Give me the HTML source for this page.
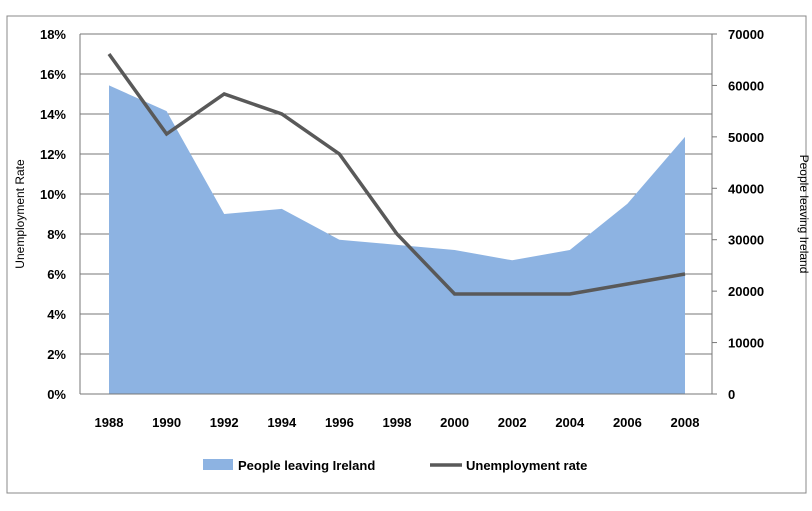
<!DOCTYPE html>
<html><head><meta charset="utf-8"><style>
body{margin:0;background:#fff;font-family:"Liberation Sans",sans-serif}
svg text{font-family:"Liberation Sans",sans-serif;fill:#000}
</style></head><body>
<svg width="812" height="506">
<rect x="7" y="16" width="799" height="477" fill="#fff" stroke="#888"/>
<g id="g"></g>
</svg>
<script>
const years=["1988","1990","1992","1994","1996","1998","2000","2002","2004","2006","2008"];
const leaving=[60000,55000,35000,36000,30000,29000,28000,26000,28000,37000,50000];
const unemp=[17,13,15,14,12,8,5,5,5,5.5,6];
const leftTicks=[0,2,4,6,8,10,12,14,16,18];
const rightTicks=[0,10000,20000,30000,40000,50000,60000,70000];
const L=80,R=712,T=34,B=394;
const x0=109,x1=685;
const xs=i=>x0+(x1-x0)*i/(years.length-1);
const yl=v=>B-(B-T)*v/18;
const yr=v=>B-(B-T)*v/70000;
const g=document.getElementById('g');const NS='http://www.w3.org/2000/svg';
function mk(t,a,txt){const e=document.createElementNS(NS,t);for(const k in a)e.setAttribute(k,a[k]);if(txt!==undefined)e.textContent=txt;g.appendChild(e);return e;}
leftTicks.forEach(v=>{const l=mk('line',{x1:L,x2:R,y1:yl(v),y2:yl(v),stroke:'#777','stroke-width':1});

const t=mk('text',{x:L-14,y:yl(v)+5,'text-anchor':'end','font-size':13,'font-weight':'bold'},v+'%');
});
rightTicks.forEach(v=>{const l=mk('line',{x1:R,x2:R+5,y1:yr(v),y2:yr(v),stroke:'#777'});

const t=mk('text',{x:R+16,y:yr(v)+5,'font-size':13,'font-weight':'bold'},v);
});
let pts=leaving.map((v,i)=>xs(i)+','+yr(v)).join(' ');
const a=mk('polygon',{points:xs(0)+','+B+' '+pts+' '+xs(years.length-1)+','+B,fill:'#8db3e2'});

const ax=mk('line',{x1:L,x2:L,y1:T,y2:B,stroke:'#777'});
const ax2=mk('line',{x1:R,x2:R,y1:T,y2:B,stroke:'#777'});
const ax3=mk('line',{x1:L,x2:R,y1:B,y2:B,stroke:'#777'});
const ln=mk('polyline',{points:unemp.map((v,i)=>xs(i)+','+yl(v)).join(' '),fill:'none',stroke:'#595959','stroke-width':3.5});

years.forEach((y,i)=>{const t=mk('text',{x:xs(i),y:427,'text-anchor':'middle','font-size':13,'font-weight':'bold'},y);
});
const yt=mk('text',{transform:'translate(24,214) rotate(-90)','text-anchor':'middle','font-size':12},'Unemployment Rate');

const yt2=mk('text',{transform:'translate(800,214) rotate(90)','text-anchor':'middle','font-size':12},'People leaving Ireland');

const r=mk('rect',{x:203,y:459,width:30,height:11,fill:'#8db3e2'});
const lt=mk('text',{x:238,y:470,'font-size':13,'font-weight':'bold'},'People leaving  Ireland');
const ll=mk('line',{x1:430,x2:462,y1:465,y2:465,stroke:'#595959','stroke-width':3.5});
const lt2=mk('text',{x:466,y:470,'font-size':13,'font-weight':'bold'},'Unemployment rate');
</script>
</body></html>
